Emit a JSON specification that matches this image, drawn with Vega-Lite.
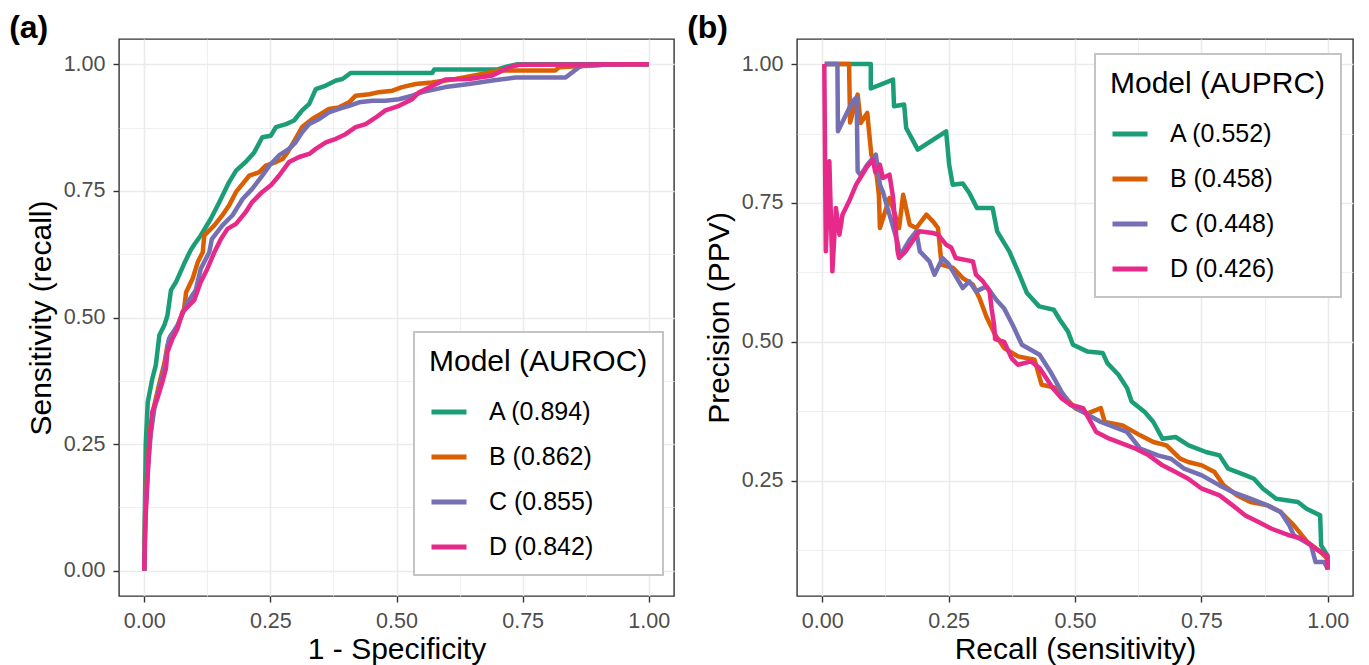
{
  "$schema": "https://vega.github.io/schema/vega-lite/v6.json",
  "padding": {"left": 8, "top": 11, "right": 5, "bottom": 2},
  "background": "white",
  "datasets": {
    "roc": [
      {"model":"A","i":0,"x":0,"y":0},{"model":"A","i":1,"x":0.001,"y":0.10},{"model":"A","i":2,"x":0.003,"y":0.25},{"model":"A","i":3,"x":0.007,"y":0.333},{"model":"A","i":4,"x":0.016,"y":0.379},{"model":"A","i":5,"x":0.023,"y":0.406},{"model":"A","i":6,"x":0.030,"y":0.465},{"model":"A","i":7,"x":0.040,"y":0.485},{"model":"A","i":8,"x":0.046,"y":0.504},{"model":"A","i":9,"x":0.053,"y":0.554},{"model":"A","i":10,"x":0.063,"y":0.570},{"model":"A","i":11,"x":0.079,"y":0.606},{"model":"A","i":12,"x":0.092,"y":0.633},{"model":"A","i":13,"x":0.100,"y":0.645},{"model":"A","i":14,"x":0.112,"y":0.662},{"model":"A","i":15,"x":0.132,"y":0.695},{"model":"A","i":16,"x":0.149,"y":0.728},{"model":"A","i":17,"x":0.168,"y":0.767},{"model":"A","i":18,"x":0.182,"y":0.790},{"model":"A","i":19,"x":0.201,"y":0.807},{"model":"A","i":20,"x":0.218,"y":0.826},{"model":"A","i":21,"x":0.234,"y":0.856},{"model":"A","i":22,"x":0.251,"y":0.859},{"model":"A","i":23,"x":0.261,"y":0.876},{"model":"A","i":24,"x":0.281,"y":0.882},{"model":"A","i":25,"x":0.297,"y":0.889},{"model":"A","i":26,"x":0.313,"y":0.909},{"model":"A","i":27,"x":0.327,"y":0.922},{"model":"A","i":28,"x":0.340,"y":0.951},{"model":"A","i":29,"x":0.360,"y":0.958},{"model":"A","i":30,"x":0.380,"y":0.968},{"model":"A","i":31,"x":0.393,"y":0.971},{"model":"A","i":32,"x":0.409,"y":0.983},{"model":"A","i":33,"x":0.571,"y":0.983},{"model":"A","i":34,"x":0.575,"y":0.990},{"model":"A","i":35,"x":0.700,"y":0.990},{"model":"A","i":36,"x":0.720,"y":0.996},{"model":"A","i":37,"x":0.740,"y":1.0},{"model":"A","i":38,"x":1.0,"y":1.0},
      {"model":"B","i":0,"x":0,"y":0},{"model":"B","i":1,"x":0.002,"y":0.12},{"model":"B","i":2,"x":0.007,"y":0.208},{"model":"B","i":3,"x":0.012,"y":0.28},{"model":"B","i":4,"x":0.020,"y":0.327},{"model":"B","i":5,"x":0.030,"y":0.37},{"model":"B","i":6,"x":0.040,"y":0.41},{"model":"B","i":7,"x":0.046,"y":0.445},{"model":"B","i":8,"x":0.053,"y":0.465},{"model":"B","i":9,"x":0.063,"y":0.475},{"model":"B","i":10,"x":0.079,"y":0.517},{"model":"B","i":11,"x":0.083,"y":0.550},{"model":"B","i":12,"x":0.096,"y":0.577},{"model":"B","i":13,"x":0.106,"y":0.609},{"model":"B","i":14,"x":0.116,"y":0.629},{"model":"B","i":15,"x":0.119,"y":0.662},{"model":"B","i":16,"x":0.139,"y":0.682},{"model":"B","i":17,"x":0.155,"y":0.702},{"model":"B","i":18,"x":0.168,"y":0.721},{"model":"B","i":19,"x":0.182,"y":0.748},{"model":"B","i":20,"x":0.195,"y":0.764},{"model":"B","i":21,"x":0.208,"y":0.780},{"model":"B","i":22,"x":0.228,"y":0.787},{"model":"B","i":23,"x":0.241,"y":0.800},{"model":"B","i":24,"x":0.261,"y":0.807},{"model":"B","i":25,"x":0.274,"y":0.813},{"model":"B","i":26,"x":0.284,"y":0.826},{"model":"B","i":27,"x":0.294,"y":0.843},{"model":"B","i":28,"x":0.313,"y":0.876},{"model":"B","i":29,"x":0.333,"y":0.892},{"model":"B","i":30,"x":0.350,"y":0.902},{"model":"B","i":31,"x":0.366,"y":0.912},{"model":"B","i":32,"x":0.386,"y":0.915},{"model":"B","i":33,"x":0.406,"y":0.925},{"model":"B","i":34,"x":0.419,"y":0.938},{"model":"B","i":35,"x":0.446,"y":0.941},{"model":"B","i":36,"x":0.465,"y":0.945},{"model":"B","i":37,"x":0.492,"y":0.948},{"model":"B","i":38,"x":0.511,"y":0.955},{"model":"B","i":39,"x":0.538,"y":0.961},{"model":"B","i":40,"x":0.570,"y":0.964},{"model":"B","i":41,"x":0.617,"y":0.971},{"model":"B","i":42,"x":0.670,"y":0.981},{"model":"B","i":43,"x":0.703,"y":0.988},{"model":"B","i":44,"x":0.815,"y":0.988},{"model":"B","i":45,"x":0.822,"y":0.994},{"model":"B","i":46,"x":0.900,"y":0.998},{"model":"B","i":47,"x":0.914,"y":1.0},{"model":"B","i":48,"x":1.0,"y":1.0},
      {"model":"C","i":0,"x":0,"y":0},{"model":"C","i":1,"x":0.002,"y":0.11},{"model":"C","i":2,"x":0.007,"y":0.20},{"model":"C","i":3,"x":0.013,"y":0.27},{"model":"C","i":4,"x":0.020,"y":0.32},{"model":"C","i":5,"x":0.030,"y":0.36},{"model":"C","i":6,"x":0.040,"y":0.40},{"model":"C","i":7,"x":0.049,"y":0.458},{"model":"C","i":8,"x":0.066,"y":0.485},{"model":"C","i":9,"x":0.086,"y":0.530},{"model":"C","i":10,"x":0.102,"y":0.554},{"model":"C","i":11,"x":0.112,"y":0.596},{"model":"C","i":12,"x":0.129,"y":0.629},{"model":"C","i":13,"x":0.134,"y":0.655},{"model":"C","i":14,"x":0.155,"y":0.682},{"model":"C","i":15,"x":0.175,"y":0.702},{"model":"C","i":16,"x":0.195,"y":0.734},{"model":"C","i":17,"x":0.214,"y":0.754},{"model":"C","i":18,"x":0.234,"y":0.780},{"model":"C","i":19,"x":0.248,"y":0.800},{"model":"C","i":20,"x":0.267,"y":0.820},{"model":"C","i":21,"x":0.287,"y":0.833},{"model":"C","i":22,"x":0.300,"y":0.846},{"model":"C","i":23,"x":0.313,"y":0.866},{"model":"C","i":24,"x":0.327,"y":0.882},{"model":"C","i":25,"x":0.347,"y":0.892},{"model":"C","i":26,"x":0.366,"y":0.905},{"model":"C","i":27,"x":0.386,"y":0.912},{"model":"C","i":28,"x":0.406,"y":0.918},{"model":"C","i":29,"x":0.426,"y":0.925},{"model":"C","i":30,"x":0.452,"y":0.928},{"model":"C","i":31,"x":0.478,"y":0.928},{"model":"C","i":32,"x":0.505,"y":0.931},{"model":"C","i":33,"x":0.531,"y":0.938},{"model":"C","i":34,"x":0.551,"y":0.945},{"model":"C","i":35,"x":0.597,"y":0.955},{"model":"C","i":36,"x":0.644,"y":0.961},{"model":"C","i":37,"x":0.690,"y":0.968},{"model":"C","i":38,"x":0.736,"y":0.974},{"model":"C","i":39,"x":0.835,"y":0.974},{"model":"C","i":40,"x":0.848,"y":0.984},{"model":"C","i":41,"x":0.861,"y":0.994},{"model":"C","i":42,"x":0.870,"y":0.998},{"model":"C","i":43,"x":0.950,"y":1.0},{"model":"C","i":44,"x":1.0,"y":1.0},
      {"model":"D","i":0,"x":0,"y":0},{"model":"D","i":1,"x":0.003,"y":0.110},{"model":"D","i":2,"x":0.010,"y":0.248},{"model":"D","i":3,"x":0.016,"y":0.314},{"model":"D","i":4,"x":0.026,"y":0.340},{"model":"D","i":5,"x":0.036,"y":0.373},{"model":"D","i":6,"x":0.043,"y":0.399},{"model":"D","i":7,"x":0.046,"y":0.432},{"model":"D","i":8,"x":0.056,"y":0.458},{"model":"D","i":9,"x":0.066,"y":0.478},{"model":"D","i":10,"x":0.076,"y":0.511},{"model":"D","i":11,"x":0.086,"y":0.521},{"model":"D","i":12,"x":0.099,"y":0.534},{"model":"D","i":13,"x":0.112,"y":0.570},{"model":"D","i":14,"x":0.125,"y":0.596},{"model":"D","i":15,"x":0.139,"y":0.629},{"model":"D","i":16,"x":0.152,"y":0.655},{"model":"D","i":17,"x":0.165,"y":0.675},{"model":"D","i":18,"x":0.182,"y":0.685},{"model":"D","i":19,"x":0.201,"y":0.708},{"model":"D","i":20,"x":0.214,"y":0.728},{"model":"D","i":21,"x":0.234,"y":0.748},{"model":"D","i":22,"x":0.251,"y":0.761},{"model":"D","i":23,"x":0.267,"y":0.780},{"model":"D","i":24,"x":0.287,"y":0.807},{"model":"D","i":25,"x":0.307,"y":0.817},{"model":"D","i":26,"x":0.327,"y":0.823},{"model":"D","i":27,"x":0.340,"y":0.833},{"model":"D","i":28,"x":0.360,"y":0.846},{"model":"D","i":29,"x":0.380,"y":0.853},{"model":"D","i":30,"x":0.399,"y":0.862},{"model":"D","i":31,"x":0.419,"y":0.876},{"model":"D","i":32,"x":0.439,"y":0.882},{"model":"D","i":33,"x":0.459,"y":0.895},{"model":"D","i":34,"x":0.478,"y":0.909},{"model":"D","i":35,"x":0.505,"y":0.918},{"model":"D","i":36,"x":0.531,"y":0.931},{"model":"D","i":37,"x":0.545,"y":0.945},{"model":"D","i":38,"x":0.597,"y":0.970},{"model":"D","i":39,"x":0.644,"y":0.971},{"model":"D","i":40,"x":0.690,"y":0.978},{"model":"D","i":41,"x":0.723,"y":0.994},{"model":"D","i":42,"x":0.743,"y":0.999},{"model":"D","i":43,"x":1.0,"y":1.0}
    ],
    "pr": [
      {"model":"A","i":0,"x":0.005,"y":1.0},{"model":"A","i":1,"x":0.096,"y":1.0},{"model":"A","i":2,"x":0.096,"y":0.956},{"model":"A","i":3,"x":0.140,"y":0.972},{"model":"A","i":4,"x":0.142,"y":0.924},{"model":"A","i":5,"x":0.162,"y":0.927},{"model":"A","i":6,"x":0.166,"y":0.885},{"model":"A","i":7,"x":0.189,"y":0.846},{"model":"A","i":8,"x":0.245,"y":0.879},{"model":"A","i":9,"x":0.251,"y":0.819},{"model":"A","i":10,"x":0.258,"y":0.783},{"model":"A","i":11,"x":0.278,"y":0.785},{"model":"A","i":12,"x":0.291,"y":0.768},{"model":"A","i":13,"x":0.306,"y":0.741},{"model":"A","i":14,"x":0.337,"y":0.741},{"model":"A","i":15,"x":0.346,"y":0.699},{"model":"A","i":16,"x":0.370,"y":0.663},{"model":"A","i":17,"x":0.390,"y":0.621},{"model":"A","i":18,"x":0.405,"y":0.588},{"model":"A","i":19,"x":0.429,"y":0.564},{"model":"A","i":20,"x":0.458,"y":0.558},{"model":"A","i":21,"x":0.470,"y":0.540},{"model":"A","i":22,"x":0.486,"y":0.519},{"model":"A","i":23,"x":0.496,"y":0.495},{"model":"A","i":24,"x":0.524,"y":0.483},{"model":"A","i":25,"x":0.555,"y":0.480},{"model":"A","i":26,"x":0.564,"y":0.462},{"model":"A","i":27,"x":0.586,"y":0.441},{"model":"A","i":28,"x":0.603,"y":0.417},{"model":"A","i":29,"x":0.612,"y":0.393},{"model":"A","i":30,"x":0.638,"y":0.374},{"model":"A","i":31,"x":0.655,"y":0.356},{"model":"A","i":32,"x":0.673,"y":0.326},{"model":"A","i":33,"x":0.699,"y":0.329},{"model":"A","i":34,"x":0.725,"y":0.314},{"model":"A","i":35,"x":0.759,"y":0.302},{"model":"A","i":36,"x":0.786,"y":0.296},{"model":"A","i":37,"x":0.803,"y":0.272},{"model":"A","i":38,"x":0.838,"y":0.260},{"model":"A","i":39,"x":0.854,"y":0.254},{"model":"A","i":40,"x":0.872,"y":0.236},{"model":"A","i":41,"x":0.898,"y":0.218},{"model":"A","i":42,"x":0.941,"y":0.212},{"model":"A","i":43,"x":0.958,"y":0.200},{"model":"A","i":44,"x":0.985,"y":0.188},{"model":"A","i":45,"x":0.987,"y":0.134},{"model":"A","i":46,"x":1.0,"y":0.115},{"model":"A","i":47,"x":1.0,"y":0.092},
      {"model":"B","i":0,"x":0.005,"y":1.0},{"model":"B","i":1,"x":0.053,"y":1.0},{"model":"B","i":2,"x":0.055,"y":0.895},{"model":"B","i":3,"x":0.070,"y":0.945},{"model":"B","i":4,"x":0.076,"y":0.894},{"model":"B","i":5,"x":0.089,"y":0.912},{"model":"B","i":6,"x":0.097,"y":0.837},{"model":"B","i":7,"x":0.105,"y":0.820},{"model":"B","i":8,"x":0.112,"y":0.765},{"model":"B","i":9,"x":0.114,"y":0.705},{"model":"B","i":10,"x":0.133,"y":0.759},{"model":"B","i":11,"x":0.140,"y":0.740},{"model":"B","i":12,"x":0.152,"y":0.705},{"model":"B","i":13,"x":0.160,"y":0.765},{"model":"B","i":14,"x":0.173,"y":0.711},{"model":"B","i":15,"x":0.186,"y":0.705},{"model":"B","i":16,"x":0.206,"y":0.729},{"model":"B","i":17,"x":0.219,"y":0.717},{"model":"B","i":18,"x":0.229,"y":0.705},{"model":"B","i":19,"x":0.236,"y":0.639},{"model":"B","i":20,"x":0.259,"y":0.633},{"model":"B","i":21,"x":0.278,"y":0.615},{"model":"B","i":22,"x":0.298,"y":0.603},{"model":"B","i":23,"x":0.311,"y":0.579},{"model":"B","i":24,"x":0.325,"y":0.545},{"model":"B","i":25,"x":0.342,"y":0.513},{"model":"B","i":26,"x":0.360,"y":0.489},{"model":"B","i":27,"x":0.387,"y":0.474},{"model":"B","i":28,"x":0.420,"y":0.468},{"model":"B","i":29,"x":0.434,"y":0.423},{"model":"B","i":30,"x":0.465,"y":0.417},{"model":"B","i":31,"x":0.482,"y":0.399},{"model":"B","i":32,"x":0.500,"y":0.381},{"model":"B","i":33,"x":0.524,"y":0.371},{"model":"B","i":34,"x":0.551,"y":0.381},{"model":"B","i":35,"x":0.559,"y":0.356},{"model":"B","i":36,"x":0.594,"y":0.350},{"model":"B","i":37,"x":0.629,"y":0.332},{"model":"B","i":38,"x":0.655,"y":0.320},{"model":"B","i":39,"x":0.681,"y":0.314},{"model":"B","i":40,"x":0.708,"y":0.290},{"model":"B","i":41,"x":0.724,"y":0.284},{"model":"B","i":42,"x":0.751,"y":0.278},{"model":"B","i":43,"x":0.776,"y":0.266},{"model":"B","i":44,"x":0.794,"y":0.242},{"model":"B","i":45,"x":0.821,"y":0.224},{"model":"B","i":46,"x":0.847,"y":0.212},{"model":"B","i":47,"x":0.881,"y":0.206},{"model":"B","i":48,"x":0.907,"y":0.194},{"model":"B","i":49,"x":0.933,"y":0.170},{"model":"B","i":50,"x":0.960,"y":0.140},{"model":"B","i":51,"x":0.986,"y":0.122},{"model":"B","i":52,"x":1.0,"y":0.110},
      {"model":"C","i":0,"x":0.005,"y":1.0},{"model":"C","i":1,"x":0.030,"y":1.0},{"model":"C","i":2,"x":0.031,"y":0.879},{"model":"C","i":3,"x":0.060,"y":0.933},{"model":"C","i":4,"x":0.068,"y":0.940},{"model":"C","i":5,"x":0.070,"y":0.807},{"model":"C","i":6,"x":0.076,"y":0.800},{"model":"C","i":7,"x":0.089,"y":0.819},{"model":"C","i":8,"x":0.106,"y":0.837},{"model":"C","i":9,"x":0.114,"y":0.783},{"model":"C","i":10,"x":0.120,"y":0.770},{"model":"C","i":11,"x":0.129,"y":0.741},{"model":"C","i":12,"x":0.136,"y":0.720},{"model":"C","i":13,"x":0.150,"y":0.675},{"model":"C","i":14,"x":0.153,"y":0.654},{"model":"C","i":15,"x":0.173,"y":0.684},{"model":"C","i":16,"x":0.186,"y":0.699},{"model":"C","i":17,"x":0.193,"y":0.663},{"model":"C","i":18,"x":0.212,"y":0.645},{"model":"C","i":19,"x":0.222,"y":0.621},{"model":"C","i":20,"x":0.238,"y":0.651},{"model":"C","i":21,"x":0.250,"y":0.640},{"model":"C","i":22,"x":0.278,"y":0.597},{"model":"C","i":23,"x":0.291,"y":0.609},{"model":"C","i":24,"x":0.304,"y":0.591},{"model":"C","i":25,"x":0.325,"y":0.600},{"model":"C","i":26,"x":0.345,"y":0.575},{"model":"C","i":27,"x":0.360,"y":0.560},{"model":"C","i":28,"x":0.377,"y":0.530},{"model":"C","i":29,"x":0.395,"y":0.495},{"model":"C","i":30,"x":0.430,"y":0.477},{"model":"C","i":31,"x":0.451,"y":0.447},{"model":"C","i":32,"x":0.473,"y":0.411},{"model":"C","i":33,"x":0.491,"y":0.387},{"model":"C","i":34,"x":0.508,"y":0.378},{"model":"C","i":35,"x":0.551,"y":0.356},{"model":"C","i":36,"x":0.586,"y":0.344},{"model":"C","i":37,"x":0.603,"y":0.338},{"model":"C","i":38,"x":0.629,"y":0.308},{"model":"C","i":39,"x":0.664,"y":0.296},{"model":"C","i":40,"x":0.690,"y":0.290},{"model":"C","i":41,"x":0.716,"y":0.272},{"model":"C","i":42,"x":0.751,"y":0.260},{"model":"C","i":43,"x":0.786,"y":0.242},{"model":"C","i":44,"x":0.812,"y":0.230},{"model":"C","i":45,"x":0.847,"y":0.218},{"model":"C","i":46,"x":0.881,"y":0.206},{"model":"C","i":47,"x":0.907,"y":0.194},{"model":"C","i":48,"x":0.924,"y":0.170},{"model":"C","i":49,"x":0.933,"y":0.152},{"model":"C","i":50,"x":0.967,"y":0.134},{"model":"C","i":51,"x":0.976,"y":0.104},{"model":"C","i":52,"x":0.993,"y":0.104},{"model":"C","i":53,"x":1.0,"y":0.092},
      {"model":"D","i":0,"x":0.004,"y":1.0},{"model":"D","i":1,"x":0.007,"y":0.663},{"model":"D","i":2,"x":0.014,"y":0.825},{"model":"D","i":3,"x":0.020,"y":0.627},{"model":"D","i":4,"x":0.027,"y":0.741},{"model":"D","i":5,"x":0.034,"y":0.693},{"model":"D","i":6,"x":0.040,"y":0.729},{"model":"D","i":7,"x":0.053,"y":0.753},{"model":"D","i":8,"x":0.067,"y":0.783},{"model":"D","i":9,"x":0.087,"y":0.813},{"model":"D","i":10,"x":0.100,"y":0.828},{"model":"D","i":11,"x":0.105,"y":0.805},{"model":"D","i":12,"x":0.114,"y":0.819},{"model":"D","i":13,"x":0.120,"y":0.795},{"model":"D","i":14,"x":0.133,"y":0.801},{"model":"D","i":15,"x":0.140,"y":0.760},{"model":"D","i":16,"x":0.149,"y":0.663},{"model":"D","i":17,"x":0.152,"y":0.651},{"model":"D","i":18,"x":0.165,"y":0.663},{"model":"D","i":19,"x":0.192,"y":0.699},{"model":"D","i":20,"x":0.219,"y":0.696},{"model":"D","i":21,"x":0.229,"y":0.693},{"model":"D","i":22,"x":0.245,"y":0.675},{"model":"D","i":23,"x":0.255,"y":0.670},{"model":"D","i":24,"x":0.264,"y":0.651},{"model":"D","i":25,"x":0.298,"y":0.645},{"model":"D","i":26,"x":0.304,"y":0.621},{"model":"D","i":27,"x":0.318,"y":0.609},{"model":"D","i":28,"x":0.331,"y":0.591},{"model":"D","i":29,"x":0.335,"y":0.560},{"model":"D","i":30,"x":0.340,"y":0.530},{"model":"D","i":31,"x":0.342,"y":0.505},{"model":"D","i":32,"x":0.360,"y":0.500},{"model":"D","i":33,"x":0.375,"y":0.470},{"model":"D","i":34,"x":0.387,"y":0.459},{"model":"D","i":35,"x":0.413,"y":0.465},{"model":"D","i":36,"x":0.430,"y":0.453},{"model":"D","i":37,"x":0.456,"y":0.417},{"model":"D","i":38,"x":0.473,"y":0.399},{"model":"D","i":39,"x":0.491,"y":0.387},{"model":"D","i":40,"x":0.516,"y":0.381},{"model":"D","i":41,"x":0.542,"y":0.338},{"model":"D","i":42,"x":0.568,"y":0.326},{"model":"D","i":43,"x":0.603,"y":0.314},{"model":"D","i":44,"x":0.620,"y":0.308},{"model":"D","i":45,"x":0.646,"y":0.296},{"model":"D","i":46,"x":0.673,"y":0.278},{"model":"D","i":47,"x":0.699,"y":0.266},{"model":"D","i":48,"x":0.724,"y":0.254},{"model":"D","i":49,"x":0.751,"y":0.236},{"model":"D","i":50,"x":0.786,"y":0.224},{"model":"D","i":51,"x":0.812,"y":0.206},{"model":"D","i":52,"x":0.837,"y":0.188},{"model":"D","i":53,"x":0.863,"y":0.176},{"model":"D","i":54,"x":0.889,"y":0.164},{"model":"D","i":55,"x":0.924,"y":0.152},{"model":"D","i":56,"x":0.950,"y":0.146},{"model":"D","i":57,"x":0.976,"y":0.128},{"model":"D","i":58,"x":0.998,"y":0.116},{"model":"D","i":59,"x":1.0,"y":0.090}
    ]
  },
  "hconcat": [
    {
      "width": 555,
      "height": 557,
      "title": {"text": "(a)", "anchor": "start", "frame": "bounds", "fontSize": 32, "fontWeight": "bold", "color": "#000000", "offset": 4, "dx": -17, "dy": 10},
      "data": {"name": "roc"},
      "mark": {"type": "line", "strokeWidth": 4.5, "strokeJoin": "round", "strokeCap": "butt"},
      "encoding": {
        "x": {"field": "x", "type": "quantitative", "scale": {"domain": [-0.05, 1.05], "nice": false, "zero": false},
              "axis": {"title": "1 - Specificity", "values": [0, 0.125, 0.25, 0.375, 0.5, 0.625, 0.75, 0.875, 1],
                       "labelExpr": "abs(datum.value*4 - round(datum.value*4)) < 0.01 ? format(datum.value, '.2f') : ''",
                       "tickOpacity": {"condition": {"test": "abs(datum.value*4 - round(datum.value*4)) < 0.01", "value": 1}, "value": 0},
                       "gridWidth": {"condition": {"test": "abs(datum.value*4 - round(datum.value*4)) < 0.01", "value": 1.6}, "value": 0.8}}},
        "y": {"field": "y", "type": "quantitative", "scale": {"domain": [-0.05, 1.05], "nice": false, "zero": false},
              "axis": {"title": "Sensitivity (recall)", "titlePadding": 7, "values": [0, 0.125, 0.25, 0.375, 0.5, 0.625, 0.75, 0.875, 1],
                       "labelExpr": "abs(datum.value*4 - round(datum.value*4)) < 0.01 ? format(datum.value, '.2f') : ''",
                       "tickOpacity": {"condition": {"test": "abs(datum.value*4 - round(datum.value*4)) < 0.01", "value": 1}, "value": 0},
                       "gridWidth": {"condition": {"test": "abs(datum.value*4 - round(datum.value*4)) < 0.01", "value": 1.6}, "value": 0.8}}},
        "color": {"field": "model", "type": "nominal",
                  "scale": {"domain": ["A", "B", "C", "D"], "range": ["#1B9E77", "#D95F02", "#7570B3", "#E7298A"]},
                  "legend": {"title": "Model (AUROC)", "orient": "none", "legendX": 295, "legendY": 293,
                             "labelExpr": "{'A': 'A (0.894)', 'B': 'B (0.862)', 'C': 'C (0.855)', 'D': 'D (0.842)'}[datum.label]"}},
        "order": {"field": "i", "type": "quantitative"}
      }
    },
    {
      "width": 556,
      "height": 557,
      "title": {"text": "(b)", "anchor": "start", "frame": "bounds", "fontSize": 32, "fontWeight": "bold", "color": "#000000", "offset": 4, "dx": -17, "dy": 10},
      "data": {"name": "pr"},
      "mark": {"type": "line", "strokeWidth": 4.5, "strokeJoin": "round", "strokeCap": "butt"},
      "encoding": {
        "x": {"field": "x", "type": "quantitative", "scale": {"domain": [-0.05, 1.05], "nice": false, "zero": false},
              "axis": {"title": "Recall (sensitivity)", "values": [0, 0.125, 0.25, 0.375, 0.5, 0.625, 0.75, 0.875, 1],
                       "labelExpr": "abs(datum.value*4 - round(datum.value*4)) < 0.01 ? format(datum.value, '.2f') : ''",
                       "tickOpacity": {"condition": {"test": "abs(datum.value*4 - round(datum.value*4)) < 0.01", "value": 1}, "value": 0},
                       "gridWidth": {"condition": {"test": "abs(datum.value*4 - round(datum.value*4)) < 0.01", "value": 1.6}, "value": 0.8}}},
        "y": {"field": "y", "type": "quantitative", "scale": {"domain": [0.043, 1.045], "nice": false, "zero": false},
              "axis": {"title": "Precision (PPV)", "titlePadding": 7, "values": [0.125, 0.25, 0.375, 0.5, 0.625, 0.75, 0.875, 1],
                       "labelExpr": "abs(datum.value*4 - round(datum.value*4)) < 0.01 ? format(datum.value, '.2f') : ''",
                       "tickOpacity": {"condition": {"test": "abs(datum.value*4 - round(datum.value*4)) < 0.01", "value": 1}, "value": 0},
                       "gridWidth": {"condition": {"test": "abs(datum.value*4 - round(datum.value*4)) < 0.01", "value": 1.6}, "value": 0.8}}},
        "color": {"field": "model", "type": "nominal",
                  "scale": {"domain": ["A", "B", "C", "D"], "range": ["#1B9E77", "#D95F02", "#7570B3", "#E7298A"]},
                  "legend": {"title": "Model (AUPRC)", "orient": "none", "legendX": 298, "legendY": 15,
                             "labelExpr": "{'A': 'A (0.552)', 'B': 'B (0.458)', 'C': 'C (0.448)', 'D': 'D (0.426)'}[datum.label]"}},
        "order": {"field": "i", "type": "quantitative"}
      }
    }
  ],
  "spacing": 11,
  "resolve": {"scale": {"color": "independent"}, "legend": {"color": "independent"}},
  "config": {
    "font": "Liberation Sans",
    "view": {"stroke": "#333333", "strokeWidth": 1.4},
    "axis": {"domain": false, "grid": true, "gridColor": "#EBEBEB", "tickColor": "#333333", "tickSize": 6, "tickWidth": 1.4,
             "labelColor": "#4D4D4D", "labelFontSize": 21.5, "labelPadding": 8, "labelFlush": false, "labelOverlap": false,
             "titleFontSize": 30, "titleFontWeight": "normal", "titleColor": "#000000", "titlePadding": 3},
    "legend": {"symbolType": "stroke", "symbolSize": 1225, "symbolStrokeWidth": 5, "strokeColor": "#C4C4C4", "strokeWidth": 2,
               "fillColor": "#FFFFFF", "padding": 15, "titleFontSize": 30, "titleFontWeight": "normal", "titleColor": "#000000",
               "titleLimit": 500, "labelLimit": 400,
               "titlePadding": 15, "labelFontSize": 25, "labelColor": "#000000", "labelOffset": 20, "rowPadding": 12, "symbolOpacity": 1}
  }
}
